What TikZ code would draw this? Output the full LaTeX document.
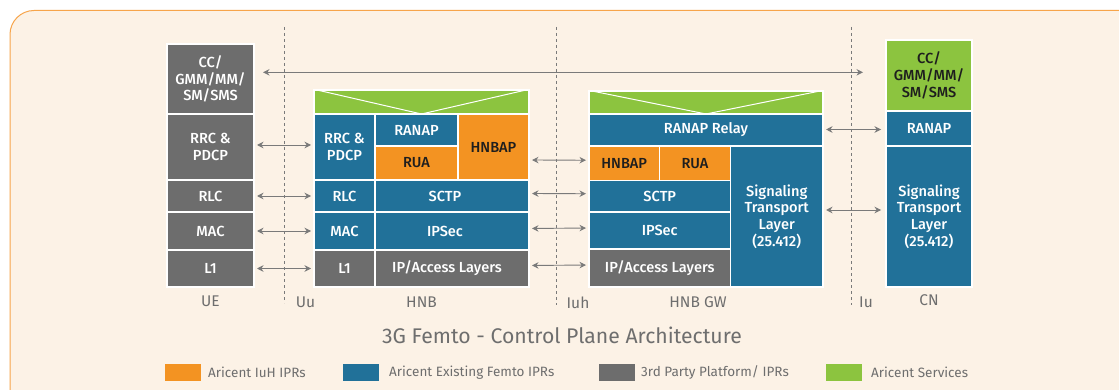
\documentclass[tikz,border=0pt]{standalone}
\usepackage{fontspec}
\setmainfont{Fira Sans}
\newfontfamily\medfont{Fira Sans Medium}
\usetikzlibrary{arrows.meta}
\definecolor{bgc}{HTML}{FCF2E6}
\definecolor{bord}{HTML}{F7A54B}
\definecolor{cblue}{HTML}{217199}
\definecolor{corange}{HTML}{F39322}
\definecolor{cgray}{HTML}{6D6D6D}
\definecolor{cgreen}{HTML}{8CC43F}
\definecolor{ctext}{HTML}{6E6E6E}
\definecolor{carrow}{HTML}{7A7A7A}
\definecolor{cdark}{HTML}{1E1E1E}
\newcommand\bxfont{\medfont\fontsize{14.6}{16.8}\selectfont}
\newcommand\blk[7]{\node[#6, anchor=north west, minimum width={(#4-#2)*1pt}, minimum height={(#5-#3)*1pt}] (#1) at (#2,#3) {#7};}
\tikzset{
  blk/.style={draw=white, line width=1.2pt, inner sep=0pt, outer sep=0pt, align=center, text=white, font=\bxfont},
  bblue/.style={blk, fill=cblue},
  borange/.style={blk, fill=corange, text=cdark},
  bgray/.style={blk, fill=cgray},
  bgreen/.style={blk, fill=cgreen, text=cdark},
  lbl/.style={text=ctext, font=\fontsize{15.5}{17}\selectfont, inner sep=0pt},
  ttl/.style={text=ctext, font=\fontsize{21.2}{23}\selectfont, inner sep=0pt},
  leg/.style={text=ctext, font=\fontsize{13.5}{16}\selectfont, anchor=west, inner sep=0pt},
  sw/.style={minimum width=36pt, minimum height=17pt, inner sep=0pt},
  biarr/.style={{Stealth[length=6.5pt,width=6.5pt]}-{Stealth[length=6.5pt,width=6.5pt]}, draw=carrow, line width=0.9pt},
  dline/.style={draw=carrow, line width=0.9pt, dash pattern=on 3pt off 3pt},
  vline/.style={draw=white, line width=1pt}
}
\begin{document}
\begin{tikzpicture}[x=1pt,y=-1pt]
\useasboundingbox (0,0) rectangle (1119,390);
\clip (0,0) rectangle (1119,390);
\fill[white] (0,0) rectangle (1119,390);
\draw[draw=bord, fill=bgc, line width=1pt, rounded corners=24pt] (10,10.5) rectangle (1145,420);

% interface dashed lines
\draw[dline] (284.5,27) -- (284.5,303);
\draw[dline] (556.5,27) -- (556.5,305);
\draw[dline] (851.5,27) -- (851.5,305);

% UE
\blk{ueCC}{167}{44}{254}{114}{bgray}{CC/\\GMM/MM/\\SM/SMS}
\blk{ueRRC}{167}{114}{254}{180}{bgray}{RRC \&\\PDCP}
\blk{ueRLC}{167}{180}{254}{212}{bgray}{RLC}
\blk{ueMAC}{167}{212}{254}{250}{bgray}{MAC}
\blk{ueL1}{167}{250}{254}{287}{bgray}{L1}

% HNB
\blk{hnbTop}{314}{90}{529}{114}{bgreen}{}
\blk{hnbRRC}{314}{114}{375}{180}{bblue}{RRC \&\\PDCP}
\blk{hnbRANAP}{375}{114}{458}{146}{bblue}{RANAP}
\blk{hnbRUA}{375}{146}{458}{180}{borange}{RUA}
\blk{hnbHNBAP}{458}{114}{529}{180}{borange}{HNBAP}
\blk{hnbRLC}{314}{180}{375}{212}{bblue}{RLC}
\blk{hnbSCTP}{375}{180}{529}{212}{bblue}{SCTP\hspace*{14pt}}
\blk{hnbMAC}{314}{212}{375}{250}{bblue}{MAC}
\blk{hnbIPSec}{375}{212}{529}{250}{bblue}{IPSec\hspace*{14pt}}
\blk{hnbL1}{314}{250}{375}{287}{bgray}{L1}
\blk{hnbIP}{375}{250}{529}{287}{bgray}{IP/Access Layers\hspace*{10pt}}
\draw[vline] ([xshift=3pt]hnbTop.north west) -- (hnbTop.south) -- ([xshift=-3pt]hnbTop.north east);

% HNB GW
\blk{gwTop}{589}{91}{823}{114}{bgreen}{}
\blk{gwRelay}{589}{114}{823}{146}{bblue}{RANAP Relay}
\blk{gwHNBAP}{589}{146}{659.5}{180.5}{borange}{HNBAP}
\blk{gwRUA}{659.5}{146}{730.5}{180.5}{borange}{RUA}
\blk{gwSig}{730.5}{146}{823}{287}{bblue}{Signaling\\Transport\\Layer\\(25.412)}
\blk{gwSCTP}{589}{180.5}{730.5}{212}{bblue}{SCTP}
\blk{gwIPSec}{589}{212}{730.5}{249}{bblue}{IPSec}
\blk{gwIP}{589}{249}{730.5}{287}{bgray}{IP/Access Layers}
\draw[vline] ([xshift=3pt]gwTop.north west) -- (gwTop.south) -- ([xshift=-3pt]gwTop.north east);

% CN
\blk{cnCC}{886}{40}{972}{111}{bgreen}{CC/\\GMM/MM/\\SM/SMS}
\blk{cnRANAP}{886}{111}{972}{146}{bblue}{RANAP}
\blk{cnSig}{886}{146}{972}{287}{bblue}{Signaling\\Transport\\Layer\\(25.412)}

% labels
\node[lbl] (lUE) at (210.5,301) {UE};
\node[lbl] (lUu) at (305.5,302.5) {Uu};
\node[lbl] (lHNB) at (421.5,302) {HNB};
\node[lbl] (lIuh) at (578,302.5) {Iuh};
\node[lbl] (lGW) at (698,302) {HNB GW};
\node[lbl] (lIu) at (866,302.5) {Iu};
\node[lbl] (lCN) at (929,300) {CN};

% arrows
\coordinate (ccL) at ([xshift=9pt,yshift=6.7pt]ueCC.east);
\path (cnCC.west |- ccL) coordinate (ccR);
\draw[biarr] (ccL) -- ([xshift=-23pt]ccR);
\draw[biarr] ([xshift=3pt,yshift=2pt]ueRRC.east) -- ([xshift=-3pt,yshift=2pt]hnbRRC.west);
\draw[biarr] ([xshift=3pt]ueRLC.east) -- ([xshift=-3pt]hnbRLC.west);
\draw[biarr] ([xshift=3pt]ueMAC.east) -- ([xshift=-3pt]hnbMAC.west);
\draw[biarr] ([xshift=3pt]ueL1.east) -- ([xshift=-3pt]hnbL1.west);
\draw[biarr] ([xshift=3pt,yshift=-13pt]hnbHNBAP.east) -- ([xshift=-3pt,yshift=3pt]gwHNBAP.west);
\draw[biarr] ([xshift=3pt,yshift=2.5pt]hnbSCTP.east) -- ([xshift=-3pt,yshift=2.5pt]gwSCTP.west);
\draw[biarr] ([xshift=3pt,yshift=2.5pt]hnbIPSec.east) -- ([xshift=-3pt,yshift=2.5pt]gwIPSec.west);
\draw[biarr] ([xshift=3pt,yshift=3pt]hnbIP.east) -- ([xshift=-3pt,yshift=3pt]gwIP.west);
\draw[biarr] ([xshift=3pt,yshift=0.5pt]gwRelay.east) -- ([xshift=-5pt,yshift=-1pt]cnRANAP.west);
\draw[biarr] ([xshift=3pt,yshift=6.5pt]gwSig.east) -- ([xshift=-5pt,yshift=6.5pt]cnSig.west);

% title
\node[ttl] (title) at (562,335) {3G Femto - Control Plane Architecture};

% legend
\node[sw, fill=corange] (sw1) at (183,372.5) {};
\node[leg] (lg1) at (208,372.5) {Aricent IuH IPRs};
\node[sw, fill=cblue] (sw2) at (360.75,372.5) {};
\node[leg] (lg2) at (389,372.5) {Aricent Existing Femto IPRs};
\node[sw, fill=cgray] (sw3) at (617,372.5) {};
\node[leg] (lg3) at (641,372.5) {3rd Party Platform/ IPRs};
\node[sw, fill=cgreen] (sw4) at (844,372.5) {};
\node[leg] (lg4) at (871,372.5) {Aricent Services};
\end{tikzpicture}
\end{document}
